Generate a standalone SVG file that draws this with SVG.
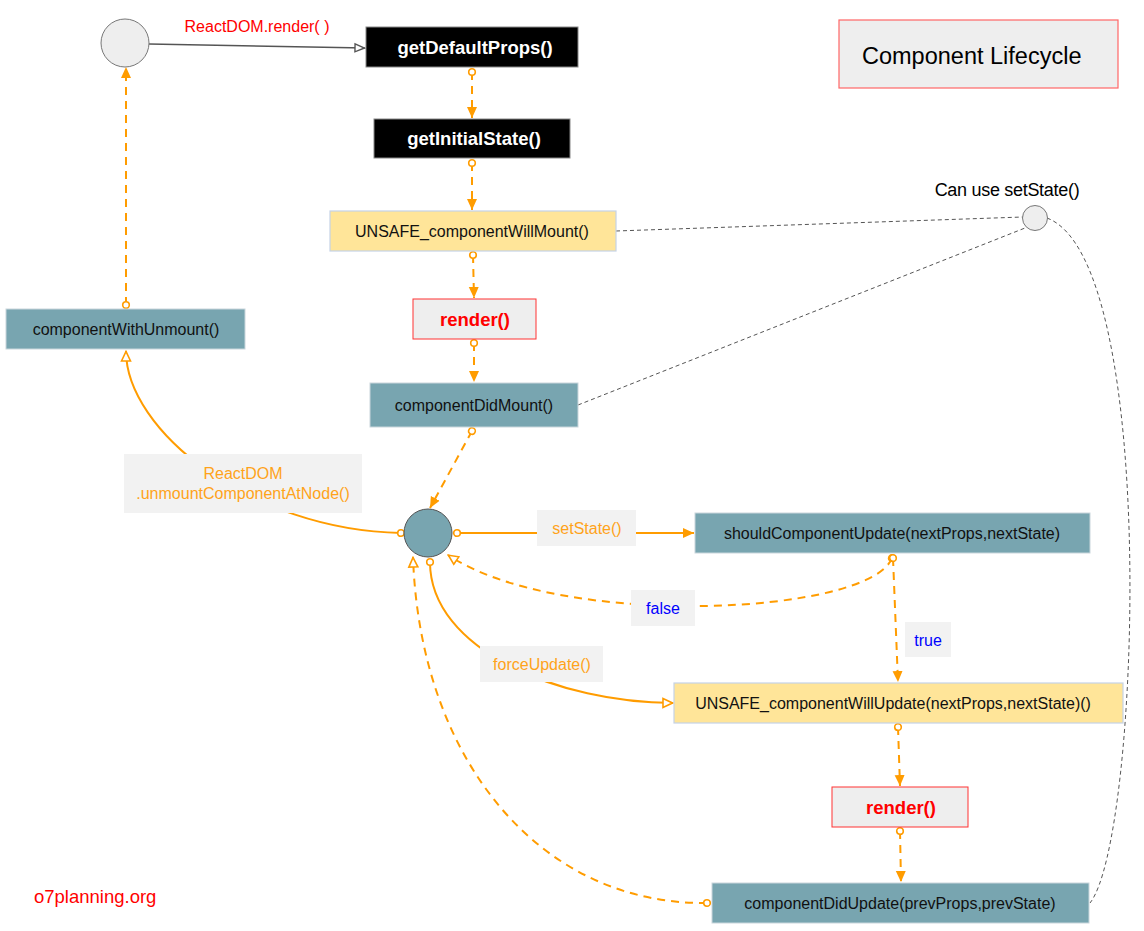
<svg xmlns="http://www.w3.org/2000/svg" width="1144" height="931" viewBox="0 0 1144 931">
<style>
text{font-family:"Liberation Sans",Arial,sans-serif}
.teal{fill:#78a5b0;stroke:#c9d6dc;stroke-width:1}
.yel{fill:#ffe599;stroke:#c5d2e6;stroke-width:1.2}
.blk{fill:#000;stroke:#888;stroke-width:1}
.red{fill:#eee;stroke:#f33;stroke-width:1}
.t{font-size:16px;fill:#111;text-anchor:middle}
.tb{font-size:18.5px;font-weight:bold;fill:#fff;text-anchor:middle}
.tr{font-size:18.5px;font-weight:bold;fill:#f00;text-anchor:middle}
.o{fill:none;stroke:#ff9c00;stroke-width:2}
.d{stroke-dasharray:8,6}
.g{fill:none;stroke:#555;stroke-width:1;stroke-dasharray:4,3}
.lb{fill:#f2f2f2}
.lt{font-size:16px;fill:#ffa31a;text-anchor:middle}
.bt{font-size:16px;fill:#00f;text-anchor:middle}
</style>
<defs>
<marker id="arr" viewBox="0 0 12 12" refX="11" refY="6" markerWidth="12" markerHeight="12" markerUnits="userSpaceOnUse" orient="auto"><path d="M0,1 L11,6 L0,11 z" fill="#ff9c00"/></marker>
<marker id="open" viewBox="0 0 12 12" refX="11" refY="6" markerWidth="12" markerHeight="12" markerUnits="userSpaceOnUse" orient="auto"><path d="M1,1.5 L10.5,6 L1,10.5 z" fill="#fff" stroke="#ff9c00" stroke-width="1.6"/></marker>
<marker id="gopen" viewBox="0 0 12 12" refX="11" refY="6" markerWidth="12" markerHeight="12" markerUnits="userSpaceOnUse" orient="auto"><path d="M1,2 L10.5,6 L1,10 z" fill="#fff" stroke="#555" stroke-width="1.4"/></marker>
<marker id="dot" viewBox="0 0 10 10" refX="5" refY="5" markerWidth="10" markerHeight="10" markerUnits="userSpaceOnUse" orient="auto"><circle cx="5" cy="5" r="3.3" fill="#fff" stroke="#ff9c00" stroke-width="1.6"/></marker>
</defs>
<rect width="1144" height="931" fill="#fff"/>

<g id="connectors">
<path d="M149,44 L365,48" fill="none" stroke="#555" stroke-width="1.6" marker-end="url(#gopen)"/>
<path class="o d" d="M472,72 L472,118" marker-start="url(#dot)" marker-end="url(#arr)"/>
<path class="o d" d="M472,163 L472,210" marker-start="url(#dot)" marker-end="url(#arr)"/>
<path class="o d" d="M473,255 L474,298" marker-start="url(#dot)" marker-end="url(#arr)"/>
<path class="o d" d="M474,343 L474,382" marker-start="url(#dot)" marker-end="url(#arr)"/>
<path class="o d" d="M472,431 L430,508" marker-start="url(#dot)" marker-end="url(#arr)"/>
<path class="o d" d="M126,305 L126,67" marker-start="url(#dot)" marker-end="url(#arr)"/>
<path class="o" d="M401,533 C250,530 126,430 126,351" marker-start="url(#dot)" marker-end="url(#open)"/>
<path class="o" d="M457,533 L694,533" marker-start="url(#dot)" marker-end="url(#arr)"/>
<path class="o d" d="M892,558 C870,615 560,630 448,555" marker-start="url(#dot)" marker-end="url(#open)"/>
<path class="o d" d="M893,558 L898,682" marker-start="url(#dot)" marker-end="url(#arr)"/>
<path class="o" d="M430,562 C430,650 560,703 673,703" marker-start="url(#dot)" marker-end="url(#open)"/>
<path class="o d" d="M898,727 L900,786" marker-start="url(#dot)" marker-end="url(#arr)"/>
<path class="o d" d="M900,831 L901,882" marker-start="url(#dot)" marker-end="url(#arr)"/>
<path class="o d" d="M707,903 C540,905 420,760 413,557" marker-start="url(#dot)" marker-end="url(#open)"/>
<path class="g" d="M616,231 L1023,217"/>
<path class="g" d="M578,405 L1025,228"/>
<path class="g" d="M1047,218 C1160,260 1140,840 1090,903"/>
</g>

<g id="labels">
<text x="257" y="32" font-size="16" fill="#f00" text-anchor="middle">ReactDOM.render( )</text>
<rect class="lb" x="124" y="454" width="238" height="59"/>
<text class="lt" x="243" y="479">ReactDOM</text>
<text class="lt" x="243" y="499">.unmountComponentAtNode()</text>
<rect class="lb" x="537" y="510" width="99" height="36"/>
<text class="lt" x="587" y="534">setState()</text>
<rect class="lb" x="631" y="590" width="64" height="36"/>
<text class="bt" x="663" y="614">false</text>
<rect class="lb" x="905" y="622" width="46" height="35"/>
<text class="bt" x="928" y="646">true</text>
<rect class="lb" x="480" y="646" width="123" height="36"/>
<text class="lt" x="542" y="670">forceUpdate()</text>
</g>

<g id="start"><circle cx="125" cy="43" r="24" fill="#eee" stroke="#777" stroke-width="1"/></g>
<g id="getDefaultProps"><rect class="blk" x="366" y="27" width="212" height="40"/><text class="tb" x="475" y="54">getDefaultProps()</text></g>
<g id="getInitialState"><rect class="blk" x="374" y="119" width="196" height="39"/><text class="tb" x="474" y="145">getInitialState()</text></g>
<g id="willMount"><rect class="yel" x="330" y="211" width="286" height="40"/><text class="t" x="472" y="237">UNSAFE_componentWillMount()</text></g>
<g id="render1"><rect class="red" x="413" y="299" width="123" height="40"/><text class="tr" x="475" y="326">render()</text></g>
<g id="didMount"><rect class="teal" x="370" y="383" width="208" height="44"/><text class="t" x="474" y="411">componentDidMount()</text></g>
<g id="willUnmount"><rect class="teal" x="6" y="309" width="239" height="40"/><text class="t" x="126" y="335">componentWithUnmount()</text></g>
<g id="hub"><circle cx="428" cy="533" r="24" fill="#78a5b0" stroke="#555" stroke-width="1"/></g>
<g id="shouldUpdate"><rect class="teal" x="695" y="513" width="395" height="40"/><text class="t" x="892" y="539">shouldComponentUpdate(nextProps,nextState)</text></g>
<g id="willUpdate"><rect class="yel" x="674" y="683" width="449" height="40"/><text class="t" x="893" y="709">UNSAFE_componentWillUpdate(nextProps,nextState)()</text></g>
<g id="render2"><rect class="red" x="832" y="787" width="136" height="40"/><text class="tr" x="901" y="814">render()</text></g>
<g id="didUpdate"><rect class="teal" x="712" y="883" width="377" height="40"/><text class="t" x="900" y="909">componentDidUpdate(prevProps,prevState)</text></g>
<g id="canSetState"><circle cx="1035" cy="218" r="12.5" fill="#eee" stroke="#777" stroke-width="1"/><text x="1007" y="196" font-size="18" fill="#000" text-anchor="middle" letter-spacing="-0.3">Can use setState()</text></g>
<g id="title"><rect x="839" y="20" width="279" height="68" fill="#eee" stroke="#f66" stroke-width="1.2"/><text x="862" y="64" font-size="23.5" fill="#000">Component Lifecycle</text></g>
<g id="credit"><text x="34" y="903" font-size="18.5" fill="#f00">o7planning.org</text></g>
</svg>
